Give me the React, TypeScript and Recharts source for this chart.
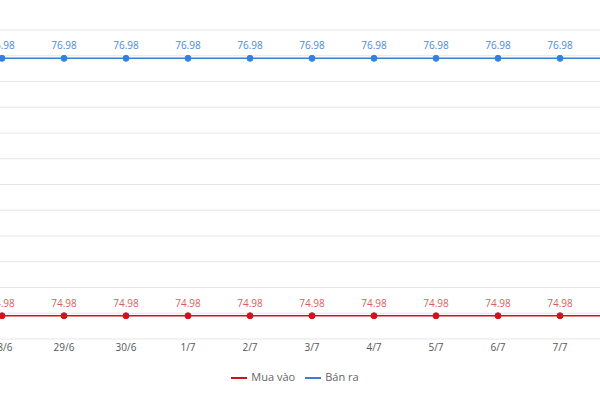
import { LineChart, Line, XAxis, YAxis, CartesianGrid, Legend, LabelList } from 'recharts';

const days = ['28/6', '29/6', '30/6', '1/7', '2/7', '3/7', '4/7', '5/7', '6/7', '7/7', '8/7'];
const buyRates = [74.98, 74.98, 74.98, 74.98, 74.98, 74.98, 74.98, 74.98, 74.98, 74.98, 74.98];
const sellRates = [76.98, 76.98, 76.98, 76.98, 76.98, 76.98, 76.98, 76.98, 76.98, 76.98, 76.98];
const yTicks = [74.8, 75, 75.2, 75.4, 75.6, 75.8, 76, 76.2, 76.4, 76.6, 76.8, 77, 77.2];

const data = days.map((day, i) => ({ day, buy: buyRates[i], sell: sellRates[i] }));

const FONT = '"Open Sans", sans-serif';

export default function App() {
  return (
    <div
      style={{
        position: 'absolute',
        left: 0,
        top: 0,
        width: 600,
        height: 400,
        overflow: 'hidden',
        background: '#fff',
        fontFamily: FONT,
      }}
    >
      <div style={{ position: 'absolute', left: -60, top: 0 }}>
        <LineChart width={720} height={400} data={data} margin={{ top: 30, right: 8, bottom: 14, left: 32 }}>
          <CartesianGrid vertical={false} stroke="#e6e6e6" />
          <XAxis
            dataKey="day"
            height={30}
            axisLine={false}
            tickLine={false}
            tickSize={0}
            tickMargin={5}
            padding={{ left: 30, right: 30 }}
            tick={{ fill: '#555', fontSize: 10, fontFamily: FONT }}
            interval={0}
          />
          <YAxis hide domain={[74.8, 77.2]} ticks={yTicks} />
          <Legend
            iconType="plainline"
            iconSize={16}
            itemSorter="dataKey"
            wrapperStyle={{ left: 0, width: 720, fontSize: 11, fontFamily: FONT }}
            formatter={(value) => <span style={{ color: '#666' }}>{value}</span>}
          />
          <Line
            dataKey="buy"
            name="Mua vào"
            stroke="#d3111c"
            strokeWidth={1.5}
            dot={{ r: 3, fill: '#d3111c', stroke: '#d3111c', strokeWidth: 1 }}
            isAnimationActive={false}
          >
            <LabelList dataKey="buy" position="top" offset={9} fill="#df5a5e" fontSize={10} fontFamily={FONT} />
          </Line>
          <Line
            dataKey="sell"
            name="Bán ra"
            stroke="#3a7fd6"
            strokeWidth={1.5}
            dot={{ r: 3, fill: '#3a7fd6', stroke: '#3a7fd6', strokeWidth: 1 }}
            isAnimationActive={false}
          >
            <LabelList dataKey="sell" position="top" offset={9} fill="#4a8ad8" fontSize={10} fontFamily={FONT} />
          </Line>
        </LineChart>
      </div>
    </div>
  );
}
